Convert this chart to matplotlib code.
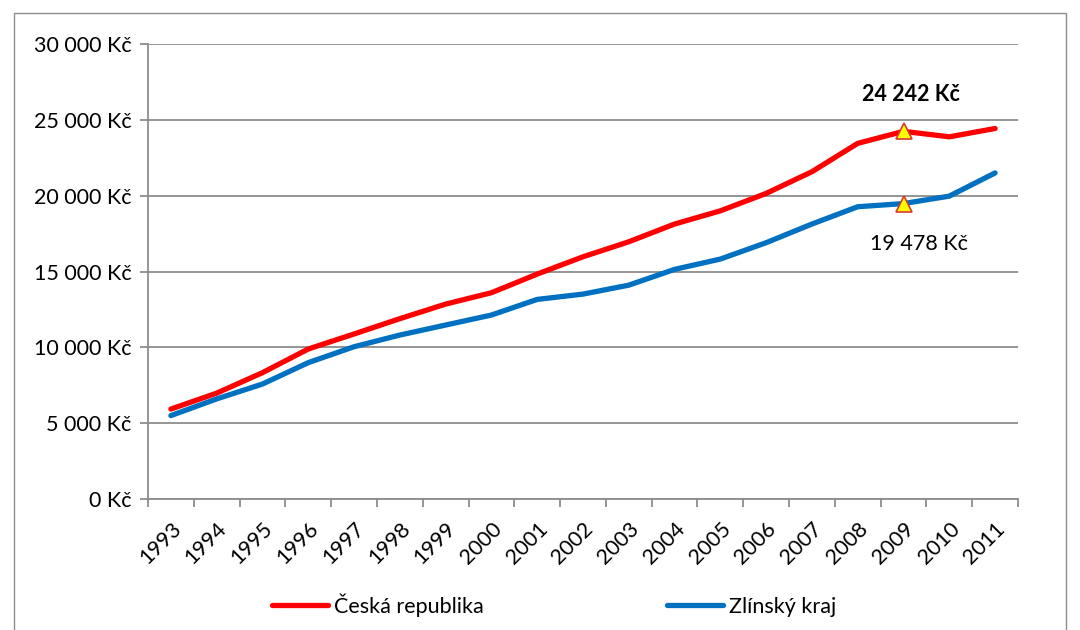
import numpy as np
import matplotlib
matplotlib.use("Agg")
import matplotlib.pyplot as plt
from matplotlib.patches import Rectangle
from matplotlib.ticker import FuncFormatter, FixedLocator

# data
years = [str(y) for y in range(1993, 2012)]
cr = [5930, 6980, 8330, 9890, 10880, 11890, 12850, 13600, 14830, 15970,
      16960, 18130, 19000, 20150, 21580, 23450, 24242, 23880, 24430]
zlin = [5500, 6600, 7580, 8990, 10040, 10810, 11470, 12130, 13160, 13510,
        14100, 15140, 15820, 16900, 18130, 19270, 19478, 19970, 21500]
hl_year = "2009"

plt.rcParams['font.family'] = ['Lato', 'DejaVu Sans']

fig = plt.figure(figsize=(10.8, 6.3), dpi=100)
ax = fig.add_axes([148/1080, 1 - 499/630, 870/1080, 455/630])

# outer chart border
fig.patches.append(Rectangle((14/1080, -0.05), 1052/1080, 1.05 - 13/630,
                             transform=fig.transFigure, fill=False,
                             edgecolor='#8c8c8c', linewidth=1))

x = np.arange(len(years))
ax.plot(x, cr, color='#ff0000', linewidth=3.8, solid_capstyle='round',
        label='Česká republika', zorder=3)
ax.plot(x, zlin, color='#0070c0', linewidth=3.8, solid_capstyle='round',
        label='Zlínský kraj', zorder=3)

i = years.index(hl_year)
ax.plot([i, i], [cr[i], zlin[i]], linestyle='none', marker='^',
        markersize=11, markerfacecolor='#ffff00', markeredgecolor='#d9382e',
        markeredgewidth=1.2, zorder=4)

def kc(v, pos=None):
    return f"{int(v):,} Kč".replace(",", " ")

ax.annotate(kc(cr[i]), (i, cr[i]), xytext=(5, 19), textcoords='offset points',
            ha='center', va='bottom', fontsize=15.5, fontweight='bold')
ax.annotate(kc(zlin[i]), (i, zlin[i]), xytext=(11, -22), textcoords='offset points',
            ha='center', va='top', fontsize=15.5)

ax.set_xlim(-0.5, len(years) - 0.5)
ax.set_ylim(0, 30000)
ax.set_yticks(np.arange(0, 30001, 5000))
ax.yaxis.set_major_formatter(FuncFormatter(kc))
ax.grid(axis='y', color='#8c8c8c', linewidth=1.3)
ax.set_axisbelow(True)

ax.set_xticks(x)
ax.set_xticklabels(years, rotation=45, ha='right', rotation_mode='anchor')
ax.xaxis.set_minor_locator(FixedLocator(np.arange(-0.5, len(years), 1)))
ax.tick_params(axis='x', which='major', length=0, pad=14, labelsize=15.5)
ax.tick_params(axis='x', which='minor', length=6, color='#8c8c8c', width=1.3)
ax.tick_params(axis='y', length=6, color='#8c8c8c', width=1.3, labelsize=15.5, pad=6)

for s in ['top', 'right']:
    ax.spines[s].set_visible(False)
for s in ['left', 'bottom']:
    ax.spines[s].set_color('#8c8c8c')
    ax.spines[s].set_linewidth(1.3)

fig.legend(loc='center', bbox_to_anchor=(0.513, 1 - 605/630), ncol=2,
           frameon=False, fontsize=15.5, handlelength=2.6, handletextpad=0.3,
           columnspacing=8.5)

fig.savefig('out.png', dpi=100)
